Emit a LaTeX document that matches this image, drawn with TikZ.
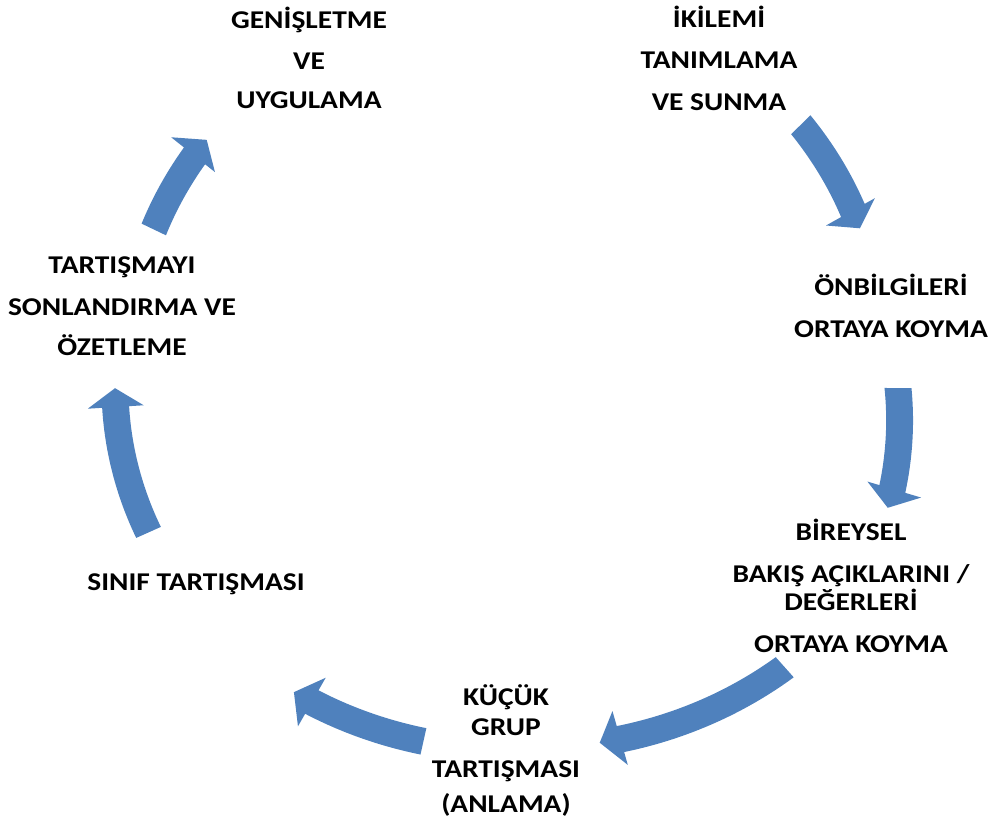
\documentclass[tikz,border=0pt]{standalone}
\usepackage{fontspec}
\setmainfont{Carlito}[FakeStretch=1.15]
\definecolor{arrowblue}{HTML}{4F81BD}
\tikzstyle{stagetext}=[align=center, anchor=base, inner sep=0pt, font=\fontsize{12.8}{20.5}\selectfont\bfseries]
\tikzstyle{cyclearrow}=[fill=arrowblue]

% curved block arrow on the ring: #1 tail angle, #2 tip angle,
% #3 and #4 radial shift (px) at tail and tip
\newcommand{\ringarrow}[4]{%
  \pgfmathsetmacro{\headang}{#2+3}
  \fill[cyclearrow]
    plot[domain=#1:\headang, samples=30]
      ({510+(413.5+#3+(#4-(#3))*(\x-(#1))/(#2-(#1)))*cos(\x)},
       {385-(378.5+#3+(#4-(#3))*(\x-(#1))/(#2-(#1)))*sin(\x)})
    -- ({510+(428+#4)*cos(\headang)},{385-(393+#4)*sin(\headang)})
    -- ({510+(400+#4)*cos(#2)},{385-(365+#4)*sin(#2)})
    -- ({510+(372+#4)*cos(\headang)},{385-(337+#4)*sin(\headang)})
    -- plot[domain=\headang:#1, samples=30]
      ({510+(386.5+#3+(#4-(#3))*(\x-(#1))/(#2-(#1)))*cos(\x)},
       {385-(351.5+#3+(#4-(#3))*(\x-(#1))/(#2-(#1)))*sin(\x)})
    -- cycle;}

\begin{document}
\begin{tikzpicture}[x=0.5pt, y=-0.5pt]
\useasboundingbox (0,0) rectangle (995,827);
% Arrows
    \ringarrow{44.4}{26.2}{7}{-10}
    \ringarrow{-0.5}{-19.6}{-12}{1}
    \ringarrow{-48.3}{-77.1}{13}{2}
    \ringarrow{-102.5}{-122.7}{0}{0}
    \ringarrow{204.1}{180.5}{-4}{-5}
    \ringarrow{154.4}{138.5}{-5}{5}
% Stages (placed at the baseline of their last line)
    \node[stagetext] (genisletme) at (309,108) {GENİŞLETME\\VE\\[-1pt]UYGULAMA};
    \node[stagetext] (ikilem) at (719,110) {İKİLEMİ\\TANIMLAMA\\[0.5pt]VE SUNMA};
    \node[stagetext] (onbilgi) at (891,337) {ÖNBİLGİLERİ\\[0.5pt]ORTAYA KOYMA};
    \node[stagetext] (bireysel) at (851,652) {BİREYSEL\\[0.5pt]BAKIŞ AÇIKLARINI /\\[-6.5pt]DEĞERLERİ\\[0.5pt]ORTAYA KOYMA};
    \node[stagetext] (kucukgrup) at (506,812) {KÜÇÜK\\[-5.5pt]GRUP\\[0.5pt]TARTIŞMASI\\[-3pt](ANLAMA)};
    \node[stagetext] (sinif) at (196,590) {SINIF TARTIŞMASI};
    \node[stagetext] (sonlandir) at (122,355) {TARTIŞMAYI\\[0.5pt]SONLANDIRMA VE\\[-0.5pt]ÖZETLEME};
\end{tikzpicture}
\end{document}
